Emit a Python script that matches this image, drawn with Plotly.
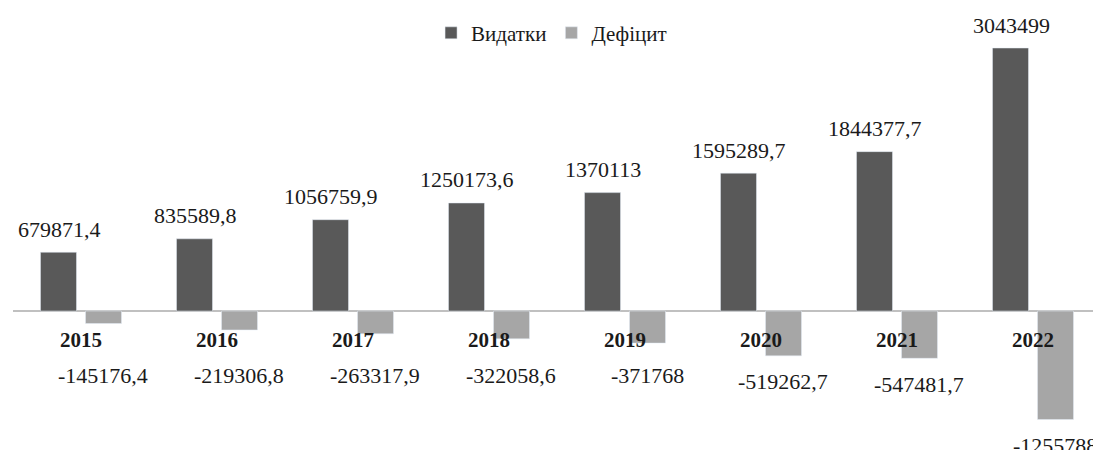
import plotly.graph_objects as go

years = ["2015", "2016", "2017", "2018", "2019", "2020", "2021", "2022"]
spending = [679871.4, 835589.8, 1056759.9, 1250173.6, 1370113, 1595289.7, 1844377.7, 3043499]
deficit = [-145176.4, -219306.8, -263317.9, -322058.6, -371768, -519262.7, -547481.7, -1255788]
spending_labels = ["679871,4", "835589,8", "1056759,9", "1250173,6", "1370113", "1595289,7", "1844377,7", "3043499"]
deficit_labels = ["-145176,4", "-219306,8", "-263317,9", "-322058,6", "-371768", "-519262,7", "-547481,7", "-1255788"]

DARK = "#595959"
LIGHT = "#a6a6a6"
FONT = "Liberation Serif"
TXT = "#1a1a1a"

fig = go.Figure()
fig.add_trace(go.Bar(x=years, y=spending, name="Видатки", marker_color=DARK, hoverinfo="skip"))
fig.add_trace(go.Bar(x=years, y=deficit, name="Дефіцит", marker_color=LIGHT, hoverinfo="skip"))

# annotations on a category axis use the category index as x
annotations = []
for i, (v, lab) in enumerate(zip(spending, spending_labels)):
    annotations.append(dict(x=i, y=v, text=lab, showarrow=False, xshift=-22, yshift=23,
                            yanchor="middle", font=dict(family=FONT, size=22, color=TXT)))
for i, (v, lab) in enumerate(zip(deficit, deficit_labels)):
    annotations.append(dict(x=i, y=min(v, -440000), text=lab, showarrow=False, xshift=22, yshift=-26,
                            yanchor="middle", font=dict(family=FONT, size=22, color=TXT)))
for i, yr in enumerate(years):
    annotations.append(dict(x=i, y=0, text="<b>%s</b>" % yr, showarrow=False, yshift=-29,
                            yanchor="middle", font=dict(family=FONT, size=21, color=TXT)))

fig.update_layout(
    width=1093, height=442,
    margin=dict(l=5, r=0, t=12, b=5),
    paper_bgcolor="white", plot_bgcolor="white",
    barmode="group", bargap=0.338, bargroupgap=0.2,
    showlegend=True,
    legend=dict(orientation="h", x=0.495, xanchor="center", y=0.969, yanchor="middle",
                font=dict(family=FONT, size=21, color=TXT), bgcolor="rgba(0,0,0,0)"),
    xaxis=dict(type="category", range=[-0.5, len(years) - 0.5], showticklabels=False,
               showgrid=False, showline=False, ticks="", zeroline=False),
    yaxis=dict(range=[-1550747, 3367666], showticklabels=False, showgrid=False, ticks="",
               zeroline=True, zerolinecolor="#c0c0c0", zerolinewidth=2, showline=False),
    annotations=annotations,
)

fig.write_html("out.html")
